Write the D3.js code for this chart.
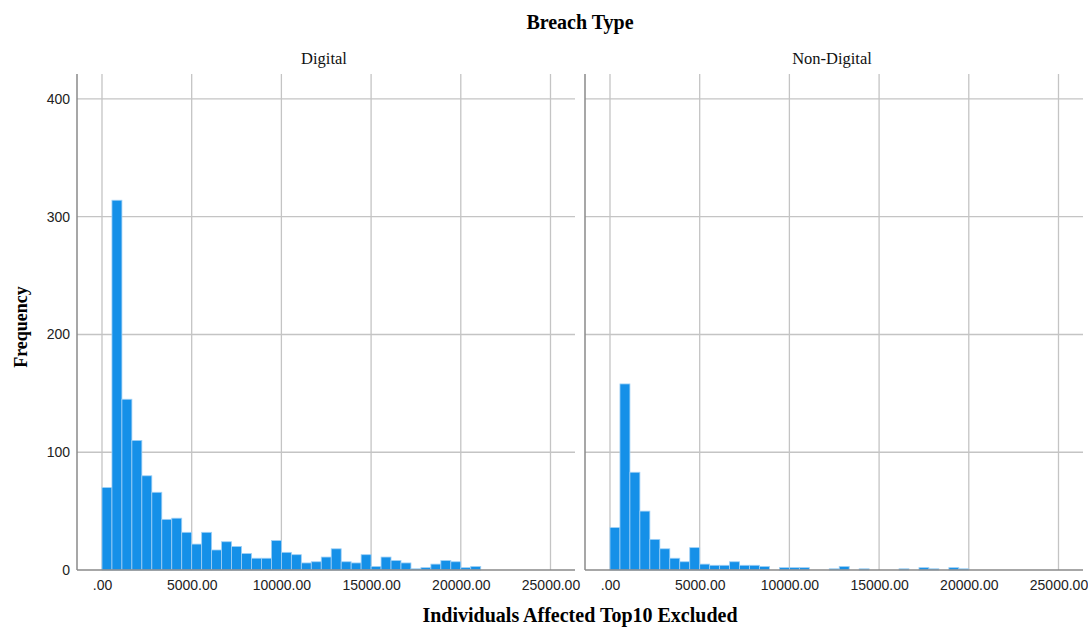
<!DOCTYPE html>
<html>
<head>
<meta charset="utf-8">
<script src="https://cdn.jsdelivr.net/npm/d3@7"></script>
<style>
  html, body { margin: 0; padding: 0; background: #fff; }
  svg { display: block; }
  .tick text { font-family: "Liberation Sans", Arial, sans-serif; font-size: 14px; fill: #222; }
</style>
</head>
<body>
<svg id="chart" width="1088" height="628"></svg>
<script>
// Histogram bins: equal-width bins starting at 0
const binStart = 0;
const binWidth = 5000 / 9;

// Frequencies per bin, one array per breach type
const digitalCounts = [70, 314, 145, 110, 80, 66, 43, 44, 32, 22, 32, 17, 24, 20, 14, 10, 10, 25, 15, 13,
                       6, 7, 11, 18, 7, 6, 13, 3, 11, 8, 6, 1, 2, 5, 8, 7, 2, 3];
const nonDigitalCounts = [36, 158, 83, 50, 26, 18, 10, 7, 19, 5, 4, 4, 7, 4, 4, 3, 0, 2, 2, 2,
                          0, 0, 1, 3, 0, 1, 0, 0, 0, 1, 0, 2, 1, 0, 2, 1];

const panelNames = ["Digital", "Non-Digital"];
const panelCounts = [digitalCounts, nonDigitalCounts];

const xTickValues = [0, 5000, 10000, 15000, 20000, 25000];
const yTickValues = [0, 100, 200, 300, 400];

const chartTitle = "Breach Type";
const xTitle = "Individuals Affected Top10 Excluded";
const yTitle = "Frequency";

// Layout
const plotTop = 74, plotBottom = 570;
const panels = [{ left: 77, right: 575 }, { left: 585, right: 1083 }];
const xDomain = [-1393, 26366];
const yDomain = [0, 421.2];

const barFill = "#1590e8";
const barStroke = "#9fd0f6";
const gridColor = "#c4c4c4";
const axisColor = "#8a8a8a";
const serif = "'Liberation Serif', 'Times New Roman', serif";

const svg = d3.select("#chart");

const y = d3.scaleLinear().domain(yDomain).range([plotBottom, plotTop]);
const fmtX = d => d === 0 ? ".00" : d3.format(".2f")(d);

// Overall title
svg.append("text")
  .attr("x", 580).attr("y", 29)
  .attr("text-anchor", "middle")
  .style("font-family", serif).style("font-weight", "bold").style("font-size", "20px")
  .text(chartTitle);

panels.forEach((p, i) => {
  const x = d3.scaleLinear().domain(xDomain).range([p.left, p.right]);
  const g = svg.append("g");

  // Horizontal gridlines
  g.selectAll("line.hgrid").data(yTickValues.filter(v => v > 0)).join("line")
    .attr("class", "hgrid")
    .attr("x1", p.left).attr("x2", p.right)
    .attr("y1", d => y(d)).attr("y2", d => y(d))
    .attr("stroke", gridColor).attr("stroke-width", 1.3);

  // Vertical gridlines
  g.selectAll("line.vgrid").data(xTickValues).join("line")
    .attr("class", "vgrid")
    .attr("x1", d => x(d)).attr("x2", d => x(d))
    .attr("y1", plotTop).attr("y2", plotBottom)
    .attr("stroke", gridColor).attr("stroke-width", 1.3);

  // Bars
  const bins = panelCounts[i].map((c, k) => ({
    x0: binStart + k * binWidth,
    x1: binStart + (k + 1) * binWidth,
    count: c
  })).filter(b => b.count > 0);

  g.selectAll("rect.bar").data(bins).join("rect")
    .attr("class", "bar")
    .attr("x", d => x(d.x0))
    .attr("width", d => x(d.x1) - x(d.x0))
    .attr("y", d => y(d.count))
    .attr("height", d => y(0) - y(d.count))
    .attr("fill", barFill)
    .attr("stroke", barStroke).attr("stroke-width", 0.8);

  // Axis lines
  g.append("line")
    .attr("x1", p.left).attr("x2", p.left)
    .attr("y1", plotTop).attr("y2", plotBottom)
    .attr("stroke", axisColor).attr("stroke-width", 1.5);
  g.append("line")
    .attr("x1", p.left).attr("x2", p.right)
    .attr("y1", plotBottom).attr("y2", plotBottom)
    .attr("stroke", axisColor).attr("stroke-width", 1.5);

  // X tick labels
  const xAxis = d3.axisBottom(x).tickValues(xTickValues).tickFormat(fmtX).tickSize(0).tickPadding(10);
  g.append("g").attr("transform", `translate(0,${plotBottom})`).call(xAxis)
    .call(a => a.select(".domain").remove());

  // Panel label
  svg.append("text")
    .attr("x", (p.left + p.right) / 2 - 2).attr("y", 64)
    .attr("text-anchor", "middle")
    .style("font-family", serif).style("font-size", "16.5px").style("fill", "#111")
    .text(panelNames[i]);

  // Y tick labels only on the first panel
  if (i === 0) {
    const yAxis = d3.axisLeft(y).tickValues(yTickValues).tickFormat(d3.format("d")).tickSize(0).tickPadding(7);
    g.append("g").attr("transform", `translate(${p.left},0)`).call(yAxis)
      .call(a => a.select(".domain").remove());
  }
});

// Axis titles
svg.append("text")
  .attr("x", 580).attr("y", 622)
  .attr("text-anchor", "middle")
  .style("font-family", serif).style("font-weight", "bold").style("font-size", "20px")
  .text(xTitle);

svg.append("text")
  .attr("transform", "translate(27,327) rotate(-90)")
  .attr("text-anchor", "middle")
  .style("font-family", serif).style("font-weight", "bold").style("font-size", "18px")
  .text(yTitle);
</script>
</body>
</html>
